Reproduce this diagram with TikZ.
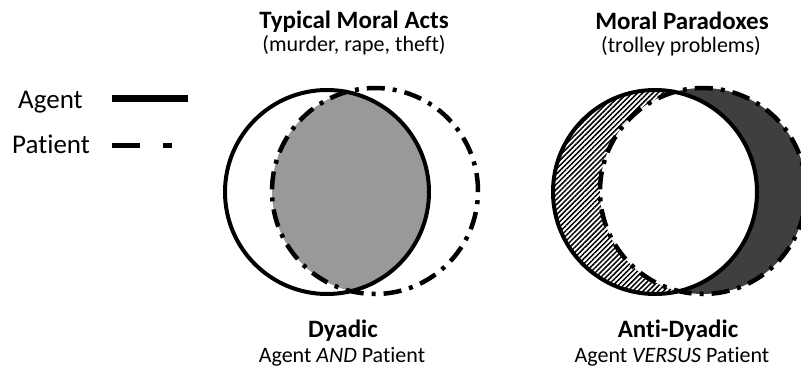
\documentclass[tikz,border=0pt]{standalone}
\usepackage{fontspec}
\setmainfont[Ligatures=NoCommon]{Carlito}
\usetikzlibrary{patterns.meta}
\tikzset{agent/.style={draw=black, line width=4pt}}
\tikzset{patient/.style={draw=black, line width=4.5pt, dash pattern=on 18pt off 8pt on 4pt off 8pt}}
\tikzset{head/.style={font=\fontsize{25}{30}\selectfont\bfseries, anchor=base}}
\tikzset{sub/.style={font=\fontsize{22}{26}\selectfont, anchor=base}}
\tikzset{key/.style={font=\fontsize{27}{32}\selectfont, anchor=base west, inner sep=0pt}}
\definecolor{dyadgray}{HTML}{999999}
\definecolor{antigray}{HTML}{3F3F3F}

\begin{document}
\begin{tikzpicture}[x=1pt, y=-1pt]
		\clip (0,0) rectangle (801,369);
		% legend
		\node[key] (agentkey) at (18,108) {Agent};
		\node[key] (patientkey) at (12,153) {Patient};
		\coordinate (agentA) at (112,99);
		\coordinate (agentB) at (188,99);
		\coordinate (patientA) at (112,145.5);
		\coordinate (patientB) at (172,145.5);
		\draw[line width=7pt] (agentA) -- (agentB);
		\draw[line width=5.5pt, dash pattern=on 28pt off 23pt on 9pt off 30pt] (patientA) -- (patientB);
		
		% centres of the circles
		\coordinate (agentL) at (327,192);
		\coordinate (patientL) at (375,191);
		\coordinate (agentR) at (655,192);
		\coordinate (patientR) at (703,191);
		
		% dyadic
		\begin{scope}
			\clip (agentL) circle (102pt);
			\fill[dyadgray] (patientL) circle (103pt);
		\end{scope}
		\draw[patient] (patientL) circle (103pt);
		\draw[agent] (agentL) circle (102pt);
		
		% anti-dyadic
		\fill[white] (agentR) circle (102pt);
		\pattern[pattern={Lines[angle=45, distance=3.6pt, line width=1.5pt]}] (agentR) circle (102pt);
		\fill[antigray] (patientR) circle (103pt);
		\begin{scope}
			\clip (agentR) circle (102pt);
			\fill[white] (patientR) circle (103pt);
		\end{scope}
		\draw[patient] (patientR) circle (103pt);
		\draw[agent] (agentR) circle (102pt);
		
		% texts
		\node[head] (typical) at (354,29) {Typical Moral Acts};
		\node[sub] (murder) at (354,52) {(murder, rape, theft)};
		\node[head] (paradox) at (682,30) {Moral Paradoxes};
		\node[sub] (trolley) at (681,53) {(trolley problems)};
		\node[head] (dyadic) at (343,337) {Dyadic};
		\node[sub] (andtext) at (342,362) {Agent \textit{AND} Patient};
		\node[head] (antidyadic) at (678,337) {Anti-Dyadic};
		\node[sub] (versus) at (672,362) {Agent \textit{VERSUS} Patient};
	\end{tikzpicture}
\end{document}
